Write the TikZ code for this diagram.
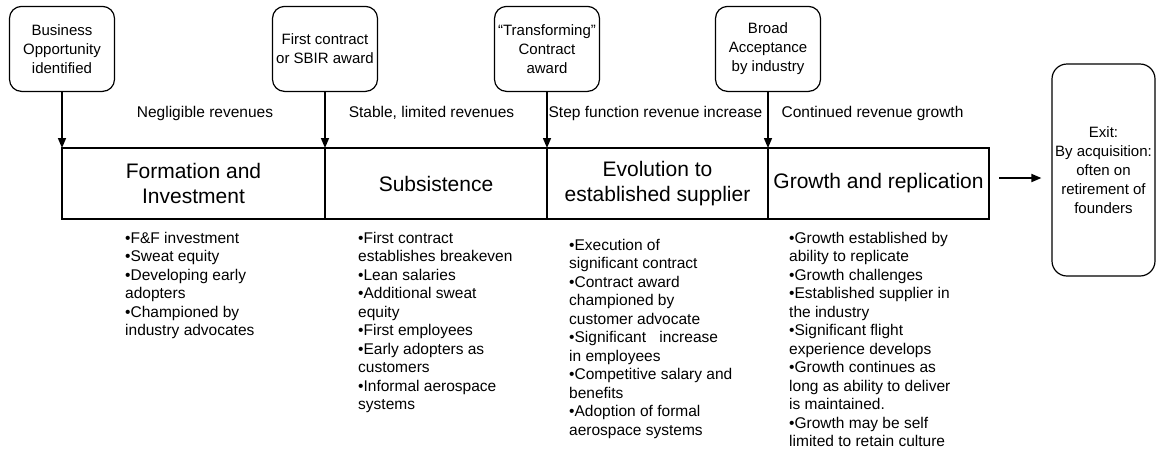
\documentclass[tikz,border=0pt]{standalone}
\usepackage{fontspec}
\setmainfont{Liberation Sans}
\usetikzlibrary{arrows.meta, positioning}

\begin{document}
\begin{tikzpicture}[
    x=1pt, y=-1pt,
    node distance=56pt and 0pt,
    event/.style={rectangle, rounded corners=12pt, draw=black, line width=1.2pt,
                  minimum width=105pt, minimum height=85pt, inner sep=0pt,
                  align=center, font=\fontsize{15}{19}\selectfont},
    stage/.style={rectangle, draw=black, line width=1.2pt, minimum height=71pt,
                  inner sep=0pt, outer sep=0pt, align=center,
                  font=\fontsize{21}{25}\selectfont},
    revenue/.style={inner sep=0pt, font=\fontsize{15.5}{18}\selectfont},
    bullets/.style={anchor=north west, align=left, inner sep=0pt,
                    font=\fontsize{15.5}{18.5}\selectfont},
    arrow/.style={-{Triangle[length=10pt, width=8pt]}, line width=1.5pt}
]
\useasboundingbox (0,0) rectangle (1156,451);

% Stages of the company
\node[stage, minimum width=263pt, anchor=north west] (form) at (62,148) {Formation and\\Investment};
\node[stage, minimum width=222pt, right=of form] (subs) {Subsistence};
\node[stage, minimum width=221pt, right=of subs] (evol) {Evolution to\\established supplier};
\node[stage, minimum width=221pt, right=of evol] (grow) {Growth and replication};

% Triggering events
\node[event, above=of form.north west] (opp) {Business\\Opportunity\\identified};
\node[event, above=of subs.north west] (first) {First contract\\or SBIR award};
\node[event, above=of evol.north west] (transf) {“Transforming”\\Contract\\award};
\node[event, above=of grow.north west] (broad) {Broad\\Acceptance\\by industry};

% Exit
\node[event, minimum width=103pt, minimum height=212pt, rounded corners=15pt] (exit) at (1103.5,170)
      {Exit:\\By acquisition:\\often on\\retirement of\\founders};

% Revenues
\node[revenue] (negl) at (205,113) {Negligible revenues};
\node[revenue] (stab) at (431.5,113) {Stable, limited revenues};
\node[revenue] (step) at (655.5,113) {Step function revenue increase};
\node[revenue] (cont) at (872.5,113) {Continued revenue growth};

% Arrows
\draw[arrow] (opp) -- (form.north west);
\draw[arrow] (first) -- (subs.north west);
\draw[arrow] (transf) -- (evol.north west);
\draw[arrow] (broad) -- (grow.north west);
\draw[arrow, line width=1.8pt, shorten <=10pt, shorten >=10pt]
    ([yshift=5.5pt]grow.east) -- ([yshift=5.5pt]grow.east -| exit.west);

% Details
\node[bullets] (formlist) at (125,232)
    {•F\&F investment\\•Sweat equity\\•Developing early\\adopters\\•Championed by\\industry advocates};
\node[bullets] (subslist) at (358,232)
    {•First contract\\establishes breakeven\\•Lean salaries\\•Additional sweat\\equity\\•First employees\\•Early adopters as\\customers\\•Informal aerospace\\systems};
\node[bullets] (evollist) at (569,239)
    {•Execution of\\significant contract\\•Contract award\\championed by\\customer advocate\\•Significant\hspace{9pt} increase\\in employees\\•Competitive salary and\\benefits\\•Adoption of formal\\aerospace systems};
\node[bullets] (growlist) at (789,232)
    {•Growth established by\\ability to replicate\\•Growth challenges\\•Established supplier in\\the industry\\•Significant flight\\experience develops\\•Growth continues as\\long as ability to deliver\\is maintained.\\•Growth may be self\\limited to retain culture};

\end{tikzpicture}
\end{document}
